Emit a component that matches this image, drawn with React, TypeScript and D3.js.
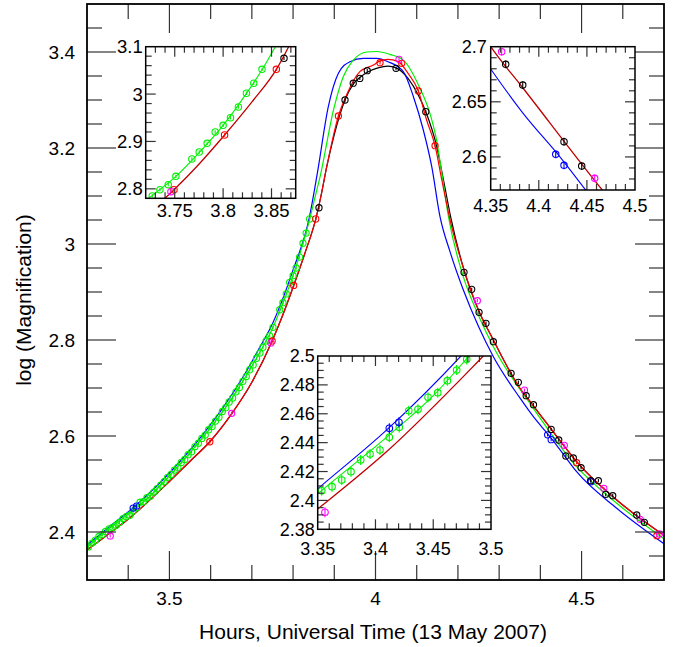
import React from "react";
import * as d3 from "d3";

type P = [number, number];

// ---------- model curves (hours UT, log magnification) ----------
const RED_CURVE: P[] = [
  [3.3, 2.3625], [3.35, 2.394], [3.41, 2.434], [3.4934, 2.5], [3.55, 2.5475],
  [3.598, 2.588], [3.65, 2.645], [3.7, 2.712], [3.7492, 2.798], [3.775, 2.852],
  [3.8015, 2.9136], [3.83, 2.984], [3.855, 3.052], [3.8677, 3.1], [3.8817, 3.161],
  [3.91, 3.2667], [3.93, 3.3111], [3.962, 3.359], [3.995, 3.373], [4.01, 3.381],
  [4.03, 3.3847], [4.055, 3.38], [4.079, 3.3556], [4.104, 3.3188], [4.124, 3.2583],
  [4.1445, 3.2048], [4.161, 3.133], [4.181, 3.05], [4.2148, 2.9458], [4.25, 2.862],
  [4.286, 2.8], [4.35, 2.7], [4.3831, 2.663], [4.466, 2.57], [4.488, 2.5465],
  [4.5853, 2.4667], [4.7, 2.393],
];

const BLACK_CURVE: P[] = [
  [3.3, 2.3625], [3.35, 2.394], [3.41, 2.434], [3.4934, 2.5], [3.55, 2.5475],
  [3.598, 2.588], [3.65, 2.645], [3.7, 2.712], [3.7492, 2.798], [3.775, 2.852],
  [3.8015, 2.9136], [3.83, 2.984], [3.855, 3.052], [3.8677, 3.1], [3.8817, 3.161],
  [3.9, 3.228], [3.926, 3.3], [3.946, 3.333], [3.962, 3.347], [3.98, 3.358],
  [4.006, 3.367], [4.03, 3.3705], [4.05, 3.367], [4.079, 3.345], [4.104, 3.31],
  [4.122, 3.2757], [4.148, 3.205], [4.165, 3.133], [4.184, 3.05], [4.2148, 2.9458],
  [4.25, 2.862], [4.286, 2.8], [4.35, 2.7], [4.3831, 2.663], [4.466, 2.57],
  [4.488, 2.5465], [4.5853, 2.4667], [4.7, 2.393],
];

const GREEN_CURVE: P[] = [
  [3.3, 2.369], [3.35, 2.4045], [3.41, 2.444], [3.45, 2.4725], [3.481, 2.5],
  [3.53, 2.5456], [3.58, 2.596], [3.63, 2.652], [3.68, 2.717], [3.7237, 2.7813],
  [3.75, 2.824], [3.775, 2.876], [3.8, 2.934], [3.825, 3.004], [3.841, 3.054],
  [3.854, 3.1], [3.866, 3.142], [3.898, 3.279], [3.922, 3.349], [3.946, 3.383],
  [3.979, 3.4], [4.003, 3.401], [4.035, 3.395], [4.0675, 3.383], [4.108, 3.324],
  [4.132, 3.272], [4.148, 3.217], [4.161, 3.147], [4.177, 3.057], [4.213, 2.932],
  [4.25, 2.851], [4.286, 2.786], [4.3831, 2.6577], [4.488, 2.536], [4.5853, 2.4598],
  [4.7, 2.386],
];

const BLUE_CURVE: P[] = [
  [3.3, 2.373], [3.35, 2.408], [3.41, 2.449], [3.474, 2.5], [3.53, 2.551],
  [3.58, 2.602], [3.63, 2.659], [3.68, 2.725], [3.72, 2.786], [3.75, 2.834],
  [3.8, 2.946], [3.839, 3.0535], [3.8588, 3.147], [3.8855, 3.286], [3.91, 3.3556],
  [3.938, 3.3798], [3.9705, 3.3868], [4.003, 3.3868], [4.0303, 3.3798], [4.0675, 3.359],
  [4.092, 3.3069], [4.116, 3.2375], [4.1365, 3.161], [4.1565, 3.0569], [4.1808, 2.984],
  [4.2132, 2.904], [4.25, 2.828], [4.286, 2.7652], [4.35, 2.6798], [4.3831, 2.6402],
  [4.4234, 2.5985], [4.447, 2.572], [4.488, 2.5256], [4.5853, 2.4494], [4.7, 2.3755],
];

// ---------- data points ----------
const GREEN_PTS: P[] = [
  [3.3035, 2.369], [3.312, 2.377], [3.3205, 2.383], [3.329, 2.391], [3.337, 2.395], [3.345, 2.401],
  [3.3535, 2.4067], [3.3624, 2.4095], [3.3708, 2.4141], [3.3788, 2.4199], [3.3872, 2.428],
  [3.3953, 2.4321], [3.4039, 2.4349], [3.412, 2.4437], [3.4206, 2.4506], [3.4288, 2.4621],
  [3.4368, 2.4631], [3.4455, 2.4714], [3.4539, 2.4746], [3.4622, 2.4829], [3.4703, 2.4903],
  [3.479, 2.4977], [3.4873, 2.505], [3.4956, 2.514], [3.5039, 2.52], [3.5122, 2.529],
  [3.5205, 2.535], [3.5288, 2.545], [3.5371, 2.551], [3.5454, 2.561], [3.5537, 2.567],
  [3.562, 2.578], [3.5703, 2.585], [3.5786, 2.595], [3.5869, 2.602], [3.5952, 2.613],
  [3.6035, 2.62], [3.6118, 2.631], [3.6201, 2.639], [3.6284, 2.651], [3.6367, 2.659],
  [3.645, 2.671], [3.6533, 2.679], [3.6616, 2.692], [3.6699, 2.701], [3.6782, 2.714],
  [3.6865, 2.724], [3.6948, 2.738], [3.7031, 2.748], [3.7114, 2.762], [3.7197, 2.773],
  [3.7268, 2.785], [3.7347, 2.798], [3.7433, 2.8087], [3.7512, 2.8264], [3.7677, 2.863],
  [3.7753, 2.8777], [3.7835, 2.896], [3.7918, 2.92], [3.8, 2.934], [3.8076, 2.95],
  [3.8158, 2.9727], [3.8241, 3.0017], [3.8317, 3.0228], [3.8402, 3.0523],
];

const BLUE_PTS: P[] = [
  [3.412, 2.4499], [3.4203, 2.4541], [4.4176, 2.6024], [4.4262, 2.5924], [4.523, 2.5048],
];

const MAGENTA_PTS: P[] = [
  [3.3563, 2.3918], [3.651, 2.6473], [3.7461, 2.794], [4.057, 3.3847], [4.2471, 2.8819],
  [4.3614, 2.6955], [4.4581, 2.5806], [4.554, 2.491], [4.6421, 2.4264], [4.6889, 2.3958],
];

const RED_PTS: P[] = [
  [3.598, 2.588], [3.7492, 2.798], [3.8015, 2.9136], [3.855, 3.0523], [3.91, 3.2667],
  [4.011, 3.3777], [4.0636, 3.3764], [4.104, 3.3188], [4.1445, 3.2048], [4.488, 2.5444],
  [4.6826, 2.3923],
];

const BLACK_PTS: P[] = [
  [3.8629, 3.0755], [3.926, 3.3], [3.946, 3.335], [3.962, 3.345], [3.98, 3.361],
  [4.0498, 3.366], [4.122, 3.2757], [4.2148, 2.941], [4.2334, 2.9056], [4.2512, 2.8577],
  [4.2681, 2.8348], [4.286, 2.7965], [4.329, 2.7306], [4.3466, 2.7119], [4.3656, 2.684],
  [4.3833, 2.6652], [4.4262, 2.6138], [4.4446, 2.5917], [4.4618, 2.5583], [4.48, 2.5542],
  [4.4988, 2.534], [4.522, 2.5069], [4.5408, 2.5069], [4.5586, 2.4785], [4.5756, 2.4756],
  [4.6338, 2.4354], [4.6523, 2.4202],
];

const ERR = 0.0035;

// ---------- axis tick labels ----------
const MAIN_X_LABELS = [3.5, 4, 4.5];
const MAIN_Y_LABELS = [2.4, 2.6, 2.8, 3, 3.2, 3.4];
const IN1_X_LABELS = [3.75, 3.8, 3.85];
const IN1_Y_LABELS = [2.8, 2.9, 3, 3.1];
const IN2_X_LABELS = [4.35, 4.4, 4.45, 4.5];
const IN2_Y_LABELS = [2.6, 2.65, 2.7];
const IN3_X_LABELS = [3.35, 3.4, 3.45, 3.5];
const IN3_Y_LABELS = [2.38, 2.4, 2.42, 2.44, 2.46, 2.48, 2.5];

const X_TITLE = "Hours, Universal Time (13 May 2007)";
const Y_TITLE = "log (Magnification)";

const COLORS = {
  black: "#000000",
  red: "#ff0000",
  darkred: "#c00000",
  green: "#00f000",
  blue: "#0000ff",
  magenta: "#ff00ff",
};

const FONT = "'Liberation Sans', Arial, Helvetica, sans-serif";

type CurveSpec = { data: P[]; color: string; width: number };

const POINT_SERIES: { data: P[]; color: string }[] = [
  { data: GREEN_PTS, color: COLORS.green },
  { data: BLUE_PTS, color: COLORS.blue },
  { data: RED_PTS, color: COLORS.red },
  { data: MAGENTA_PTS, color: COLORS.magenta },
  { data: BLACK_PTS, color: COLORS.black },
];

function steps(a: number, b: number, step: number): number[] {
  const n = Math.round((b - a) / step);
  const out: number[] = [];
  for (let i = 0; i <= n; i++) out.push(+(a + i * step).toFixed(6));
  return out;
}

interface PanelProps {
  id: string;
  x0: number; x1: number; y0: number; y1: number;
  xd: [number, number]; yd: [number, number];
  xMinorStep: number; yMinorStep: number;
  xMinorStart: number; yMinorStart: number;
  xLabels: number[]; yLabels: number[];
  curves: CurveSpec[];
  majorLen: number; minorLen: number;
  fontSize: number;
  xLabelBaseline: number;
  yLabelGap: number;
  frameWidth: number;
  r: number;
  background: boolean;
}

function Panel(p: PanelProps) {
  const x = d3.scaleLinear().domain(p.xd).range([p.x0, p.x1]);
  const y = d3.scaleLinear().domain(p.yd).range([p.y1, p.y0]);
  const line = d3
    .line<P>()
    .x((d) => x(d[0]))
    .y((d) => y(d[1]))
    .curve(d3.curveMonotoneX);
  const isMajor = (v: number, labels: number[]) => labels.some((l) => Math.abs(l - v) < 1e-6);
  const xTicks = steps(p.xMinorStart, p.xd[1], p.xMinorStep).filter((v) => v > p.xd[0] + 1e-6 && v < p.xd[1] - 1e-6);
  const yTicks = steps(p.yMinorStart, p.yd[1], p.yMinorStep).filter((v) => v > p.yd[0] + 1e-6 && v < p.yd[1] - 1e-6);
  const tickColor = "#333";
  return (
    <g>
      <defs>
        <clipPath id={p.id}>
          <rect x={p.x0} y={p.y0} width={p.x1 - p.x0} height={p.y1 - p.y0} />
        </clipPath>
      </defs>
      {p.background && (
        <rect x={p.x0} y={p.y0} width={p.x1 - p.x0} height={p.y1 - p.y0} fill="#fff" />
      )}
      <g clipPath={`url(#${p.id})`}>
        {p.curves.map((c, i) => (
          <path key={i} d={line(c.data) || ""} fill="none" stroke={c.color} strokeWidth={c.width} />
        ))}
        {POINT_SERIES.map((s, i) => (
          <g key={i} stroke={s.color} fill="none" strokeWidth={1.1}>
            {s.data.map((d, j) => {
              const cx = x(d[0]);
              const cy = y(d[1]);
              return (
                <g key={j}>
                  <circle cx={cx} cy={cy} r={p.r} />
                  <line x1={cx} x2={cx} y1={y(d[1] - ERR)} y2={y(d[1] + ERR)} />
                </g>
              );
            })}
          </g>
        ))}
      </g>
      {/* ticks */}
      <g stroke={tickColor} strokeWidth={1.2}>
        {xTicks.map((v, i) => {
          const L = isMajor(v, p.xLabels) ? p.majorLen : p.minorLen;
          const xx = x(v);
          return (
            <g key={i}>
              <line x1={xx} x2={xx} y1={p.y1} y2={p.y1 - L} />
              <line x1={xx} x2={xx} y1={p.y0} y2={p.y0 + L} />
            </g>
          );
        })}
        {yTicks.map((v, i) => {
          const L = isMajor(v, p.yLabels) ? p.majorLen : p.minorLen;
          const yy = y(v);
          return (
            <g key={i}>
              <line x1={p.x0} x2={p.x0 + L} y1={yy} y2={yy} />
              <line x1={p.x1} x2={p.x1 - L} y1={yy} y2={yy} />
            </g>
          );
        })}
      </g>
      <rect x={p.x0} y={p.y0} width={p.x1 - p.x0} height={p.y1 - p.y0} fill="none" stroke="#000" strokeWidth={p.frameWidth} />
      {/* labels */}
      <g fontFamily={FONT} fontSize={p.fontSize} fill="#000">
        {p.xLabels.map((v, i) => (
          <text key={i} x={x(v)} y={p.xLabelBaseline} textAnchor="middle">{String(v)}</text>
        ))}
        {p.yLabels.map((v, i) => (
          <text key={i} x={p.x0 - p.yLabelGap} y={y(v)} dy="0.36em" textAnchor="end">{String(v)}</text>
        ))}
      </g>
    </g>
  );
}

export default function App() {
  const mainCurves: CurveSpec[] = [
    { data: BLACK_CURVE, color: COLORS.black, width: 1.2 },
    { data: BLUE_CURVE, color: COLORS.blue, width: 1.2 },
    { data: GREEN_CURVE, color: COLORS.green, width: 1.2 },
    { data: RED_CURVE, color: COLORS.red, width: 1.2 },
  ];
  return (
    <svg width={683} height={647} style={{ position: "absolute", left: 0, top: 0, background: "#fff" }}>
      <rect x={0} y={0} width={683} height={647} fill="#fff" />
      <Panel
        id="clip-main" x0={87} x1={664} y0={4} y1={580}
        xd={[3.3, 4.7]} yd={[2.3, 3.5]}
        xMinorStep={0.1} yMinorStep={0.05} xMinorStart={3.3} yMinorStart={2.3}
        xLabels={MAIN_X_LABELS} yLabels={MAIN_Y_LABELS}
        curves={mainCurves} majorLen={29} minorLen={15} fontSize={19}
        xLabelBaseline={605} yLabelGap={12} frameWidth={1.8} r={3.1} background={false}
      />
      <Panel
        id="clip-in1" x0={145.7} x1={295.7} y0={46.7} y1={198.3}
        xd={[3.72, 3.875]} yd={[2.78, 3.1]}
        xMinorStep={0.01} yMinorStep={0.02} xMinorStart={3.72} yMinorStart={2.78}
        xLabels={IN1_X_LABELS} yLabels={IN1_Y_LABELS}
        curves={[
          { data: GREEN_CURVE, color: COLORS.green, width: 1.1 },
          { data: RED_CURVE, color: COLORS.darkred, width: 1.3 },
        ]}
        majorLen={10} minorLen={6} fontSize={18.5}
        xLabelBaseline={217} yLabelGap={3} frameWidth={1.5} r={3.2} background={true}
      />
      <Panel
        id="clip-in2" x0={490.7} x1={635} y0={46.7} y1={190}
        xd={[4.35, 4.5]} yd={[2.57, 2.7]}
        xMinorStep={0.01} yMinorStep={0.01} xMinorStart={4.35} yMinorStart={2.57}
        xLabels={IN2_X_LABELS} yLabels={IN2_Y_LABELS}
        curves={[
          { data: BLUE_CURVE, color: COLORS.blue, width: 1.1 },
          { data: RED_CURVE, color: COLORS.darkred, width: 1.3 },
        ]}
        majorLen={10} minorLen={6} fontSize={18}
        xLabelBaseline={212} yLabelGap={4} frameWidth={1.5} r={3.2} background={true}
      />
      <Panel
        id="clip-in3" x0={317.7} x1={491} y0={356} y1={529.3}
        xd={[3.35, 3.5]} yd={[2.38, 2.5]}
        xMinorStep={0.01} yMinorStep={0.005} xMinorStart={3.35} yMinorStart={2.38}
        xLabels={IN3_X_LABELS} yLabels={IN3_Y_LABELS}
        curves={[
          { data: BLUE_CURVE, color: COLORS.blue, width: 1.1 },
          { data: GREEN_CURVE, color: COLORS.green, width: 1.1 },
          { data: RED_CURVE, color: COLORS.darkred, width: 1.3 },
        ]}
        majorLen={10} minorLen={6} fontSize={18}
        xLabelBaseline={555} yLabelGap={3} frameWidth={1.5} r={3.3} background={true}
      />
      <text x={373} y={639} textAnchor="middle" fontFamily={FONT} fontSize={21} fill="#000">
        {X_TITLE}
      </text>
      <text
        transform={`translate(31, 300) rotate(-90)`}
        textAnchor="middle" fontFamily={FONT} fontSize={21} fill="#000"
      >
        {Y_TITLE}
      </text>
    </svg>
  );
}
